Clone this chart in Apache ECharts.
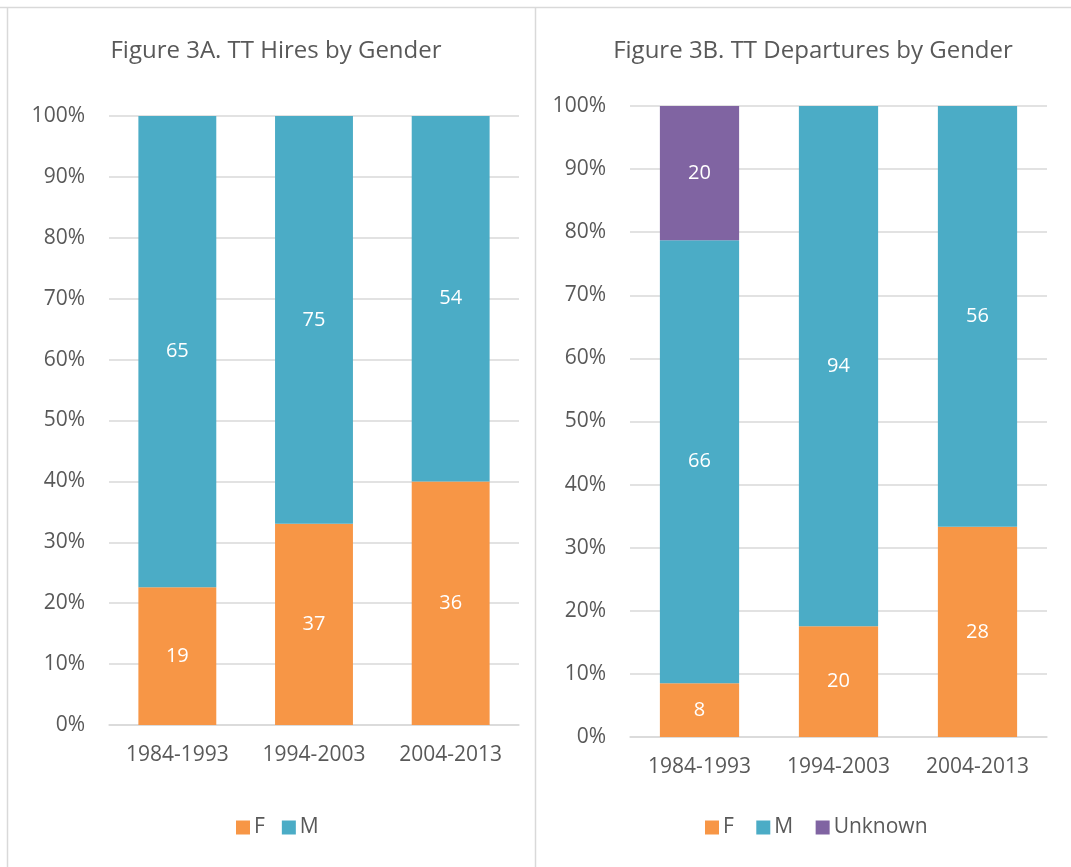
<!DOCTYPE html>
<html>
<head>
<meta charset="utf-8">
<script src="https://cdn.jsdelivr.net/npm/echarts@6/dist/echarts.min.js"></script>
<style>
  html, body { margin: 0; padding: 0; background: #fff; }
  #chart { width: 1071px; height: 867px; }
</style>
</head>
<body>
<div id="chart"></div>
<script>
const periods = ["1984-1993", "1994-2003", "2004-2013"];

// Figure 3A: hires (counts)
const hiresF = [19, 37, 36];
const hiresM = [65, 75, 54];

// Figure 3B: departures (counts)
const departF = [8, 20, 28];
const departM = [66, 94, 56];
const departUnknown = [20, 0, 0];

const percentTicks = [0, 10, 20, 30, 40, 50, 60, 70, 80, 90, 100];

const COLOR_F = "#F79646";
const COLOR_M = "#4BACC6";
const COLOR_U = "#8064A2";
const TEXT = "#595959";
const GRID = "#D9D9D9";
const FONT = "'Open Sans', sans-serif";

// share of each group within its period, counts kept for labels
function shares(groups) {
    const totals = periods.map((_, i) => groups.reduce((s, g) => s + g[i], 0));
    return groups.map(g => g.map((v, i) => ({value: v / totals[i] * 100, count: v})));
}

const hiresPct = shares([hiresF, hiresM]);
const departPct = shares([departF, departM, departUnknown]);

function barSeries(name, data, color, idx, stack) {
    return {
        name,
        type: "bar",
        stack,
        xAxisIndex: idx,
        yAxisIndex: idx,
        barWidth: "57%",
        itemStyle: {color},
        label: {
            show: true,
            position: "inside",
            color: "#fff",
            fontSize: 20,
            fontFamily: FONT,
            formatter: p => p.data.count ? String(p.data.count) : ""
        },
        data
    };
}

function xAxis(gridIndex) {
    return {
        type: "category",
        gridIndex,
        data: periods,
        axisLine: {lineStyle: {color: GRID, width: 1.5}},
        axisTick: {show: false},
        axisLabel: {color: TEXT, fontSize: 21, fontFamily: FONT, margin: 20}
    };
}

function yAxis(gridIndex) {
    return {
        type: "value",
        gridIndex,
        min: percentTicks[0],
        max: percentTicks[percentTicks.length - 1],
        interval: percentTicks[1] - percentTicks[0],
        axisLine: {show: false},
        axisTick: {show: false},
        splitLine: {lineStyle: {color: GRID, width: 1.5}},
        axisLabel: {color: TEXT, fontSize: 21, fontFamily: FONT, margin: 24, formatter: "{value}%"}
    };
}

const legendText = {color: TEXT, fontSize: 21, fontFamily: FONT, padding: [0, 0, 0, -1]};

const chart = echarts.init(document.getElementById("chart"));
chart.setOption({
    animation: false,
    graphic: [
        {type: "line", shape: {x1: 0, y1: 7.5, x2: 1071, y2: 7.5}, style: {stroke: GRID, lineWidth: 1.5}},
        {type: "line", shape: {x1: 7.5, y1: 7, x2: 7.5, y2: 867}, style: {stroke: GRID, lineWidth: 1.5}},
        {type: "line", shape: {x1: 535.5, y1: 7, x2: 535.5, y2: 867}, style: {stroke: GRID, lineWidth: 1.5}}
    ],
    title: [
        {text: "Figure 3A. TT Hires by Gender", left: 271, top: 34, textAlign: "center",
            textStyle: {color: TEXT, fontSize: 24, fontWeight: "normal", fontFamily: FONT}},
        {text: "Figure 3B. TT Departures by Gender", left: 808, top: 34, textAlign: "center",
            textStyle: {color: TEXT, fontSize: 24, fontWeight: "normal", fontFamily: FONT}}
    ],
    legend: [
        {data: ["F", "M"], left: 236, top: 817, itemWidth: 14, itemHeight: 14, itemGap: 17,
            icon: "rect", textStyle: legendText, selectedMode: false, padding: 0},
        {data: ["F ", "M ", "Unknown"], left: 705, top: 817, itemWidth: 14, itemHeight: 14, itemGap: 17,
            icon: "rect", textStyle: legendText, selectedMode: false, padding: 0}
    ],
    grid: [
        {left: 109, right: 1071 - 519, top: 116, bottom: 867 - 725},
        {left: 630, right: 1071 - 1047, top: 106, bottom: 867 - 737}
    ],
    xAxis: [xAxis(0), xAxis(1)],
    yAxis: [yAxis(0), yAxis(1)],
    series: [
        barSeries("F", hiresPct[0], COLOR_F, 0, "a"),
        barSeries("M", hiresPct[1], COLOR_M, 0, "a"),
        barSeries("F ", departPct[0], COLOR_F, 1, "b"),
        barSeries("M ", departPct[1], COLOR_M, 1, "b"),
        barSeries("Unknown", departPct[2], COLOR_U, 1, "b")
    ]
});
</script>
</body>
</html>
